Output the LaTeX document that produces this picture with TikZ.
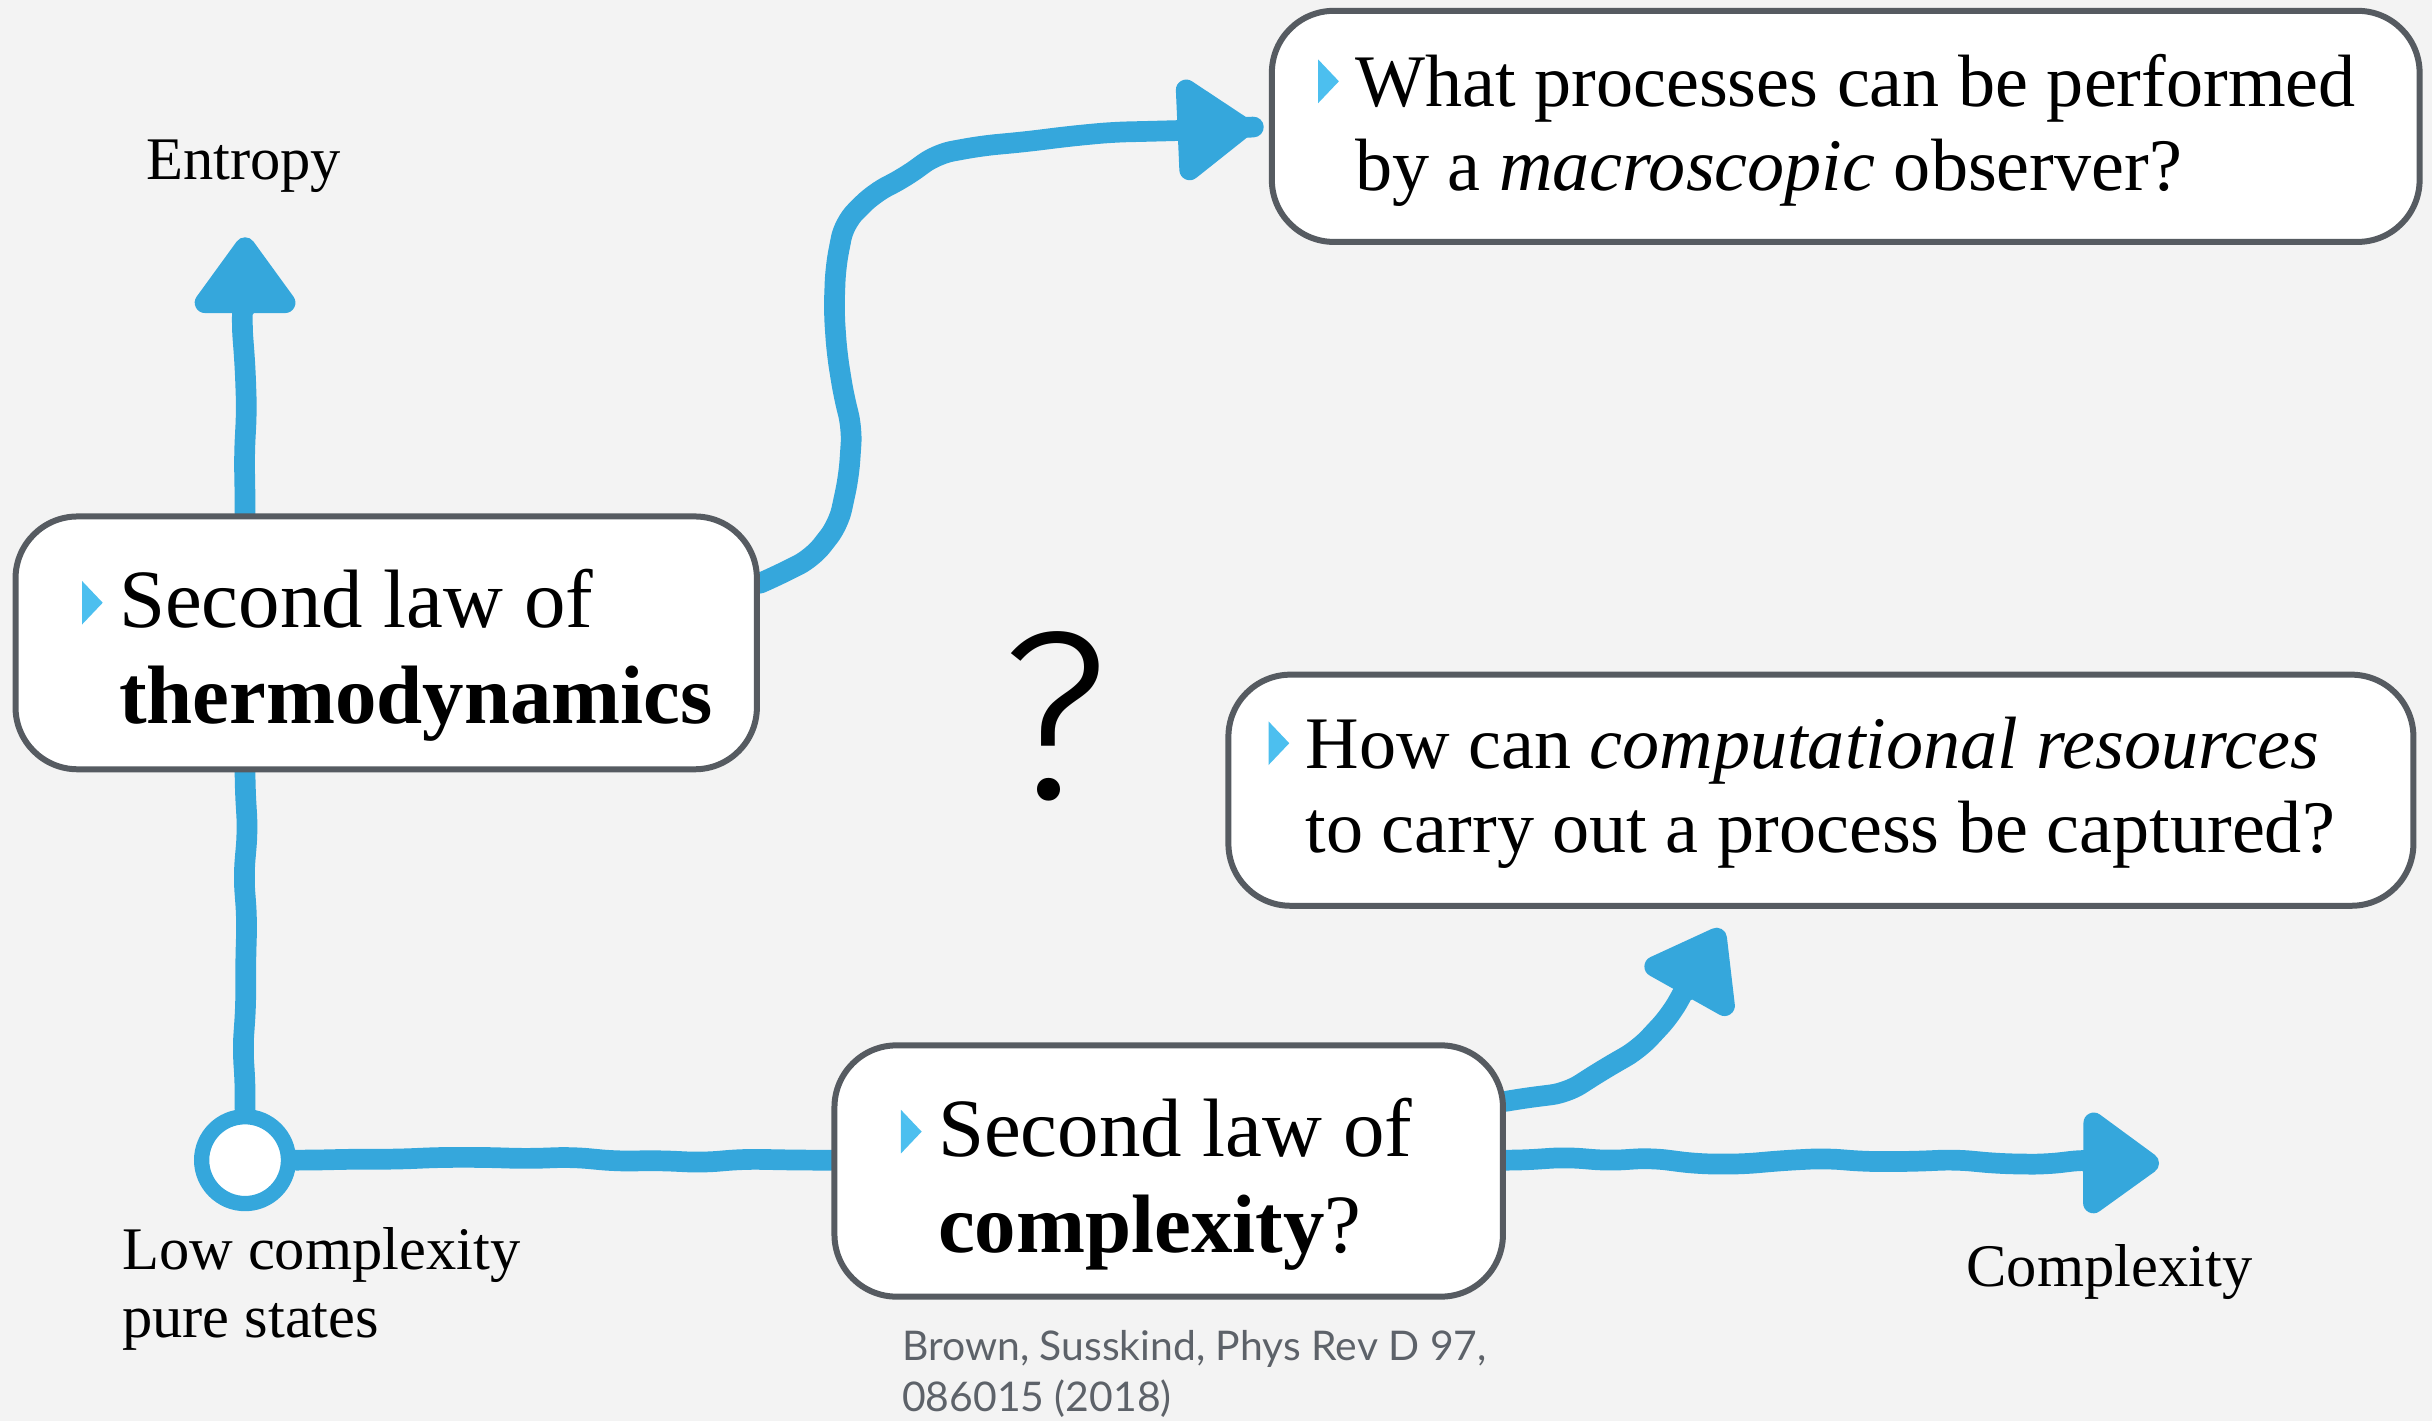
\documentclass[tikz,border=0pt]{standalone}
\usepackage{fontspec}
\setmainfont{Liberation Serif}
\newfontfamily\citefont{Lato}
\newfontfamily\qmarkfont{Fira Sans Light}
\usetikzlibrary{arrows.meta,calc,backgrounds,decorations.pathmorphing}

\definecolor{lineblue}{HTML}{35A7DC}
\definecolor{bulletblue}{HTML}{4CBFEF}
\definecolor{boxgray}{HTML}{565B61}
\definecolor{bggray}{HTML}{F3F3F3}
\definecolor{citegray}{HTML}{5D6269}

% little blue triangle hanging in front of the first line
\newcommand{\bul}{\llap{\tikz[baseline=0pt]\fill[bulletblue] (0,0.6pt) -- (0,8.6pt) -- (3.8pt,4.6pt) -- cycle;\hspace{3pt}}}

\tikzset{
  lawbox/.style={draw=boxgray, line width=1.1pt, fill=white, rounded corners=4mm, inner sep=0pt},
  bigtext/.style={align=left, inner sep=0pt, font=\fontsize{15.2}{17.5}\selectfont},
  smalltext/.style={align=left, inner sep=0pt, font=\fontsize{13.6}{15.4}\selectfont},
  axislabel/.style={align=left, inner sep=0pt, font=\fontsize{11.1}{12.5}\selectfont},
  citation/.style={align=left, inner sep=0pt, text=citegray, font=\citefont\fontsize{7.5}{9.4}\selectfont},
  sketch/.style={draw=lineblue, line width=3.8pt, line cap=round, line join=round,
    rounded corners=1mm, decorate,
    decoration={random steps, segment length=2.8mm, amplitude=0.22mm, pre length=1mm, post length=2mm}},
  sketcharrow/.style={sketch, -{Triangle[length=5.4mm, width=7.4mm, round]}},
}

\begin{document}
\pgfmathsetseed{7}
\begin{tikzpicture}
\useasboundingbox (0,0) rectangle (15.68,9.16);

% The four boxes
\node[lawbox, minimum width=4.78cm, minimum height=1.63cm] (thermo) at (2.49,5.015) {};
\node[lawbox, minimum width=7.40cm, minimum height=1.49cm] (macro) at (11.90,8.345) {};
\node[lawbox, minimum width=7.64cm, minimum height=1.49cm] (comput) at (11.74,4.065) {};
\node[lawbox, minimum width=4.31cm, minimum height=1.62cm] (cplx) at (7.535,1.61) {};

\node[bigtext, anchor=west] (thermotext) at ($(thermo.west)+(0.68,-0.08)$)
  {\bul Second law of\\\textbf{thermodynamics}};
\node[smalltext, anchor=west] (macrotext) at ($(macro.west)+(0.55,-0.025)$)
  {\bul What processes can be performed\\by a \textit{macroscopic} observer?};
\node[smalltext, anchor=west] (computtext) at ($(comput.west)+(0.51,-0.015)$)
  {\bul How can \textit{computational resources}\\to carry out a process be captured?};
\node[bigtext, anchor=west] (cplxtext) at ($(cplx.west)+(0.68,-0.085)$)
  {\bul Second law of\\\textbf{complexity}?};

% Origin of the two axes
\node[circle, draw=lineblue, line width=2.8pt, fill=white, minimum size=5.6mm, inner sep=0pt] (start) at (1.58,1.68) {};

% Labels
\node[axislabel] (entropy) at (1.57,8.09) {Entropy};
\node[axislabel, anchor=west] (lowcplx) at (0.78,0.85) {Low complexity\\pure states};
\node[axislabel] (cplxlabel) at (13.60,0.96) {Complexity};
\node[citation, anchor=west] (cite) at (5.81,0.30) {Brown, Susskind, Phys Rev D 97,\\086015 (2018)};
\node[inner sep=0pt, font=\qmarkfont\fontsize{44}{44}\selectfont] (question) at (6.80,4.54) {?};

% Free ends of the arrows
\coordinate (entropytip) at (1.58,7.63);
\coordinate (cplxtip) at (13.92,1.66);
\coordinate (computtip) at (11.10,3.17);

\begin{scope}[on background layer]
  \fill[bggray] (0,0) rectangle (15.68,9.16);

  % Axes
  \draw[sketcharrow] (start |- thermo.north) -- (entropytip);
  \draw[sketch] (start |- thermo.south) -- (start.north);
  \draw[sketch] (start.east) -- (start.east -| cplx.west);
  \draw[sketcharrow] (start -| cplx.east) -- (cplxtip);

  % Branches to the questions
  \draw[sketcharrow] ($(cplx.north east)+(0,-0.38)$)
    .. controls (10.3,2.15) and (10.7,2.45) .. (computtip);
  \draw[sketcharrow, shorten >=1mm] ($(thermo.north east)+(0,-0.45)$)
    .. controls (5.3,5.55) and (5.5,5.9) .. (5.45,6.5)
    .. controls (5.4,7.1) and (5.25,7.55) .. (5.75,7.95)
    .. controls (6.2,8.3) and (7.2,8.3) .. (macro.west);
\end{scope}
\end{tikzpicture}
\end{document}
